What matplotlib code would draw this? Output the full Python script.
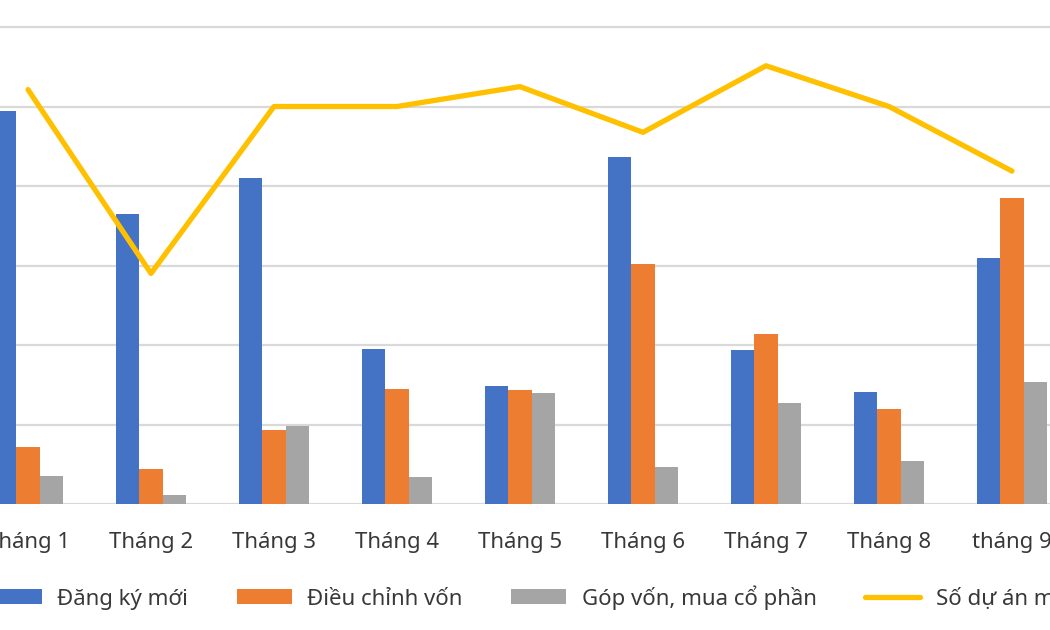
import matplotlib

matplotlib.use("Agg")
import matplotlib.pyplot as plt

plt.rcParams["font.family"] = ["Noto Sans", "DejaVu Sans"]

months = ["Tháng 1", "Tháng 2", "Tháng 3", "Tháng 4", "Tháng 5", "Tháng 6", "Tháng 7", "Tháng 8", "tháng 9"]
dang_ky_moi = [2472, 1824, 2050, 975, 742, 2183, 969, 704, 1547]
dieu_chinh_von = [358, 220, 465, 723, 717, 1509, 1069, 597, 1925]
gop_von = [176, 57, 491, 170, 698, 233, 635, 270, 767]
so_du_an_moi = [417, 232, 400, 400, 420, 374, 441, 400, 335]

BLUE = "#4472C4"
ORANGE = "#ED7D31"
GRAY = "#A5A5A5"
YELLOW = "#FFC000"
GRID = "#D9D9D9"
TEXT = "#383838"

fig = plt.figure(figsize=(10.5, 6.3), dpi=100)
ax = fig.add_axes([0, 0.2, 1, 0.8])
ax2 = ax.twinx()

x = list(range(len(months)))
width = 0.192
ax.bar([i - width for i in x], dang_ky_moi, width=width, color=BLUE, zorder=3, label="Đăng ký mới")
ax.bar(x, dieu_chinh_von, width=width, color=ORANGE, zorder=3, label="Điều chỉnh vốn")
ax.bar([i + width for i in x], gop_von, width=width, color=GRAY, zorder=3, label="Góp vốn, mua cổ phần")
ax2.plot(x, so_du_an_moi, color=YELLOW, linewidth=3.8, solid_capstyle="round", solid_joinstyle="round",
         label="Số dự án mới")

px_per_cat = 123.0
ax.set_xlim(-28 / px_per_cat, (1050 - 28) / px_per_cat)
ax.set_ylim(0, 504 / 79.5 * 500)
ax2.set_ylim(0, 504 / 79.5 * 80)

ax.set_yticks([0, 500, 1000, 1500, 2000, 2500, 3000])
ax.set_yticklabels([])
ax.yaxis.grid(True, color=GRID, linewidth=1.6, zorder=0)
ax.set_axisbelow(True)
ax.tick_params(axis="y", length=0)
ax2.set_yticks([])

ax.set_xticks(x)
ax.set_xticklabels(months, fontsize=16, color=TEXT)
ax.tick_params(axis="x", length=0, pad=20)

for a in (ax, ax2):
    for spine in a.spines.values():
        spine.set_visible(False)

h1, l1 = ax.get_legend_handles_labels()
h2, l2 = ax2.get_legend_handles_labels()
fig.legend(h1 + h2, l1 + l2, loc="center", bbox_to_anchor=(0.505, 0.052), ncol=4, frameon=False,
           fontsize=16, handlelength=2.48, handleheight=0.63, handletextpad=0.68, columnspacing=2.2,
           labelcolor=TEXT)

fig.savefig("out.png", dpi=100)
